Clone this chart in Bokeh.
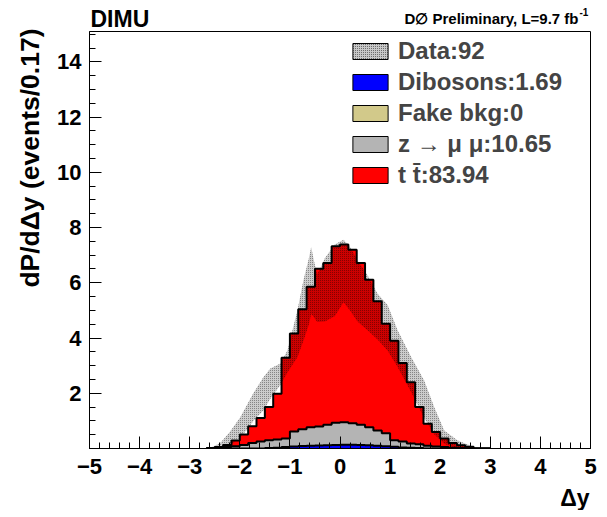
import numpy as np
from math import pi
from bokeh.plotting import figure
from bokeh.layouts import row, column
from bokeh.models import FixedTicker, Label, Legend, LegendItem, Range1d
from bokeh.embed import file_html
from bokeh.resources import INLINE

# ---------------- data ----------------
bin_width = 1.0 / 6.0
first_edge = -5.0 + 14 * bin_width   # lower edge of first listed bin

# stacked top of t tbar (t tbar + Z->mumu + dibosons), per bin
stack_ttbar = [0.02, 0.05, 0.13, 0.29, 0.51, 0.81, 1.10, 1.50, 1.98, 3.29,
               4.16, 5.04, 5.86, 6.51, 6.72, 7.32, 7.39, 7.20, 6.72, 6.11,
               5.33, 4.52, 3.90, 3.10, 2.40, 1.50, 0.90, 0.60, 0.36, 0.20,
               0.12, 0.06, 0.0, 0.0]
# stacked top of Z->mumu (Z->mumu + dibosons)
stack_zmumu = [0.02, 0.03, 0.05, 0.08, 0.13, 0.20, 0.25, 0.30, 0.33, 0.36,
               0.62, 0.70, 0.77, 0.80, 0.86, 0.93, 0.95, 0.91, 0.86, 0.77,
               0.65, 0.55, 0.30, 0.25, 0.18, 0.15, 0.10, 0.07, 0.05, 0.03,
               0.02, 0.0, 0.0, 0.0]
# dibosons
dibosons = [0.0, 0.0, 0.0, 0.0, 0.0, 0.0, 0.0, 0.02, 0.03, 0.05,
            0.07, 0.09, 0.10, 0.11, 0.12, 0.13, 0.14, 0.14, 0.13, 0.12,
            0.10, 0.08, 0.06, 0.04, 0.03, 0.02, 0.0, 0.0, 0.0, 0.0,
            0.0, 0.0, 0.0, 0.0]
# fake background (zero)
fake_bkg = [0.0] * 34

# data band (smoothed)
data_x = [-2.75, -2.55, -2.39, -2.2, -1.99, -1.85, -1.73, -1.53, -1.39, -1.19,
          -1.05, -0.85, -0.73, -0.62, -0.575, -0.52, -0.455, -0.3, -0.1, 0.07,
          0.2, 0.35, 0.55, 0.75, 0.95, 1.15, 1.42, 1.68, 1.88, 2.08,
          2.35, 2.67, 2.95]
data_hi = [0.0, 0.05, 0.2, 0.6, 1.13, 1.6, 2.0, 2.58, 2.9, 3.08,
           3.55, 5.0, 6.09, 6.9, 7.3, 6.8, 6.3, 6.9, 7.4, 7.56,
           7.3, 6.81, 6.27, 5.6, 5.2, 4.28, 3.31, 2.46, 1.5, 0.65,
           0.29, 0.05, 0.0]
data_lo = [0.0, 0.0, 0.0, 0.1, 0.4, 0.7, 1.0, 1.38, 1.8, 2.3,
           2.75, 3.3, 3.9, 4.5, 4.88, 4.75, 4.58, 4.6, 4.8, 5.3,
           5.0, 4.6, 4.28, 3.95, 3.55, 2.95, 2.05, 1.1, 0.52, 0.17,
           0.0, 0.0, 0.0]

legend_labels = ["Data:92", "Dibosons:1.69", "Fake bkg:0",
                 "z \u2192 \u03bc \u03bc:10.65", "t t\u0304:83.94"]
x_ticks = [-5, -4, -3, -2, -1, 0, 1, 2, 3, 4, 5]
y_ticks = [2, 4, 6, 8, 10, 12, 14]

FONT = "Liberation Sans"
RED, GRAY, BLUE, KHAKI = "#ff0000", "#b4b4b4", "#0000ff", "#d2c98a"

# ---------------- layout sizes (page pixels) ----------------
LEFT_W = 45            # strip holding the y title
TOTAL_W, TOTAL_H = 600, 510
FRAME_L, FRAME_R, FRAME_T, FRAME_B = 89, 590, 31, 448
FOOT_T = 485
MAIN_W = TOTAL_W - LEFT_W

def blank(width, height):
    f = figure(width=width, height=height, output_backend="svg",
               toolbar_location=None, x_axis_type=None, y_axis_type=None,
               x_range=Range1d(0, 1), y_range=Range1d(0, 1),
               min_border=0, min_border_left=0, min_border_right=0,
               min_border_top=0, min_border_bottom=0)
    f.outline_line_color = None
    f.grid.visible = False
    f.background_fill_color = "white"
    f.border_fill_color = "white"
    return f

def lab(fig, text, x, y, size, align="left", baseline="middle", angle=0):
    fig.add_layout(Label(x=x, y=y, x_units="screen", y_units="screen", text=text,
                         text_font=FONT, text_font_style="bold", text_font_size=size,
                         text_align=align, text_baseline=baseline, angle=angle,
                         text_color="black"))

# ---------------- main figure ----------------
p = figure(width=MAIN_W, height=FOOT_T - FRAME_T, output_backend="svg",
           toolbar_location=None,
           x_range=Range1d(-5, 5), y_range=Range1d(0, 15.1),
           min_border_left=FRAME_L - LEFT_W, min_border_right=TOTAL_W - FRAME_R,
           min_border_top=0, min_border_bottom=FOOT_T - FRAME_B)
p.grid.visible = False
p.outline_line_color = "black"
p.outline_line_width = 1
p.background_fill_color = "white"
p.border_fill_color = "white"

edges = first_edge + bin_width * np.arange(len(stack_ttbar) + 1)

def stepvals(v):
    return list(v) + [v[-1]]

p.varea_step(x=edges, y1=0, y2=stepvals(stack_ttbar), step_mode="after",
             fill_color=RED)
p.varea(x=data_x, y1=data_lo, y2=data_hi, fill_color="black", fill_alpha=0.2,
        hatch_pattern="dot", hatch_color="black", hatch_scale=2,
        hatch_weight=1, hatch_alpha=0.45)
p.varea_step(x=edges, y1=0, y2=stepvals(stack_zmumu), step_mode="after",
             fill_color=GRAY)
p.varea_step(x=edges, y1=0, y2=stepvals(dibosons), step_mode="after",
             fill_color=BLUE)
for vals in (stack_ttbar, stack_zmumu, dibosons):
    p.step(x=edges, y=stepvals(vals), mode="after", line_color="black",
           line_width=2)

# legend renderers (hidden quads carrying the legend swatch styles)
left, right = edges[:-1], edges[1:]
leg_r = []
leg_r.append(p.quad(left=data_x[:-1], right=data_x[1:], top=data_hi[:-1],
                    bottom=data_lo[:-1], fill_color="#c8c8c8", line_color="black",
                    hatch_pattern="dot", hatch_color="black", hatch_scale=2,
                    hatch_alpha=0.6, visible=False))
leg_r.append(p.quad(left=left, right=right, top=dibosons, bottom=0,
                    fill_color=BLUE, line_color="black", visible=False))
leg_r.append(p.quad(left=left, right=right, top=fake_bkg, bottom=0,
                    fill_color=KHAKI, line_color="black", visible=False))
leg_r.append(p.quad(left=left, right=right, top=stack_zmumu, bottom=0,
                    fill_color=GRAY, line_color="black", visible=False))
leg_r.append(p.quad(left=left, right=right, top=stack_ttbar, bottom=0,
                    fill_color=RED, line_color="black", visible=False))
legend = Legend(items=[LegendItem(label=l, renderers=[r]) for l, r in zip(legend_labels, leg_r)],
                location=(259, 259), orientation="vertical",
                glyph_width=44, glyph_height=20, label_height=20, spacing=3,
                padding=0, margin=0, label_standoff=6,
                label_text_font=FONT, label_text_font_style="bold",
                label_text_font_size="24px", label_text_baseline="middle",
                border_line_alpha=0, background_fill_alpha=0,
                inactive_fill_alpha=0)
p.add_layout(legend, "center")

for ax in (p.xaxis[0], p.yaxis[0]):
    ax.major_tick_in = 12
    ax.major_tick_out = 0
    ax.minor_tick_in = 6
    ax.minor_tick_out = 0
    ax.major_tick_line_color = "black"
    ax.minor_tick_line_color = "black"
    ax.axis_line_color = "black"
    ax.major_label_text_font = FONT
    ax.major_label_text_font_style = "bold"
    ax.major_label_text_font_size = "22px"
    ax.major_label_text_color = "black"
p.xaxis.ticker = FixedTicker(ticks=x_ticks,
                             minor_ticks=[round(-5 + 0.2 * i, 2) for i in range(51)])
p.yaxis.ticker = FixedTicker(ticks=y_ticks,
                             minor_ticks=[0.5 * i for i in range(31)])
p.xaxis.major_label_standoff = 10
p.yaxis.major_label_standoff = 8

# ---------------- text strips ----------------
# header/footer frames are aligned with the main frame (x from FRAME_L)
header = blank(MAIN_W, FRAME_T)
lab(header, "DIMU", 1, FRAME_T - 18, "23px")
lab(header, "D\u2205 Preliminary, L=9.7 fb", 578 - FRAME_L, FRAME_T - 17.5, "15px",
    align="right")
lab(header, "-1", 579 - FRAME_L, FRAME_T - 11, "10px")

footer = blank(MAIN_W, TOTAL_H - FOOT_T)
lab(footer, "\u0394y", FRAME_R - FRAME_L - 1, TOTAL_H - 497, "23px", align="right")

side = blank(LEFT_W, TOTAL_H)
lab(side, "dP/d\u0394y (events/0.17)", 29, TOTAL_H - 28, "26.5px", align="right",
    angle=pi / 2)

layout = row(side, column(header, p, footer, spacing=0), spacing=0)

open("out.html", "w").write(file_html(layout, INLINE))
